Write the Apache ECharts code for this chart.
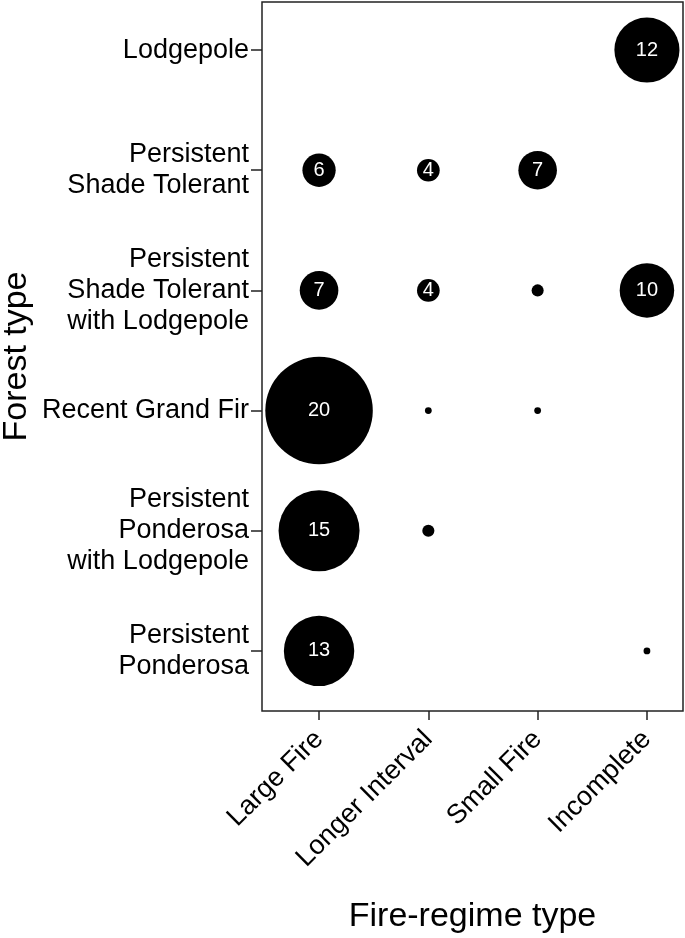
<!DOCTYPE html>
<html>
<head>
<meta charset="utf-8">
<script src="https://cdn.jsdelivr.net/npm/echarts@6/dist/echarts.min.js"></script>
<style>
html,body{margin:0;padding:0;background:#fff;}
#chart{width:685px;height:938px;}
</style>
</head>
<body>
<div id="chart"></div>
<script>
// Categories
const regimeTypes = ['Large Fire', 'Longer Interval', 'Small Fire', 'Incomplete'];
// bottom to top
const forestTypes = [
  'Persistent\nPonderosa',
  'Persistent\nPonderosa\nwith Lodgepole',
  'Recent Grand Fir',
  'Persistent\nShade Tolerant\nwith Lodgepole',
  'Persistent\nShade Tolerant',
  'Lodgepole'
];
// Counts per forest type, in regime order (0 = no bubble)
const persistentPonderosa = [13, 0, 0, 1];
const persistentPonderosaLodgepole = [15, 2, 0, 0];
const recentGrandFir = [20, 1, 1, 0];
const shadeTolerantLodgepole = [7, 4, 2, 10];
const shadeTolerant = [6, 4, 7, 0];
const lodgepole = [0, 0, 0, 12];

const rows = [persistentPonderosa, persistentPonderosaLodgepole, recentGrandFir,
              shadeTolerantLodgepole, shadeTolerant, lodgepole];

const data = [];
rows.forEach((row, yi) => {
  row.forEach((v, xi) => {
    if (v > 0) data.push([xi + 1, yi + 1, v]);
  });
});

const FONT = '"Liberation Sans", Arial, sans-serif';
const chart = echarts.init(document.getElementById('chart'));
chart.setOption({
  animation: false,
  textStyle: { fontFamily: FONT, color: '#000' },
  grid: { left: 262, top: 2, right: 2, bottom: 227, containLabel: false, outerBoundsMode: 'none',
          show: true, borderColor: '#222', borderWidth: 1.5, backgroundColor: 'transparent' },
  xAxis: {
    type: 'value', min: 0.478, max: 4.33,
    name: 'Fire-regime type', nameLocation: 'middle', nameGap: 189, nameMoveOverlap: false,
    nameTextStyle: { fontSize: 34, color: '#000', fontFamily: FONT },
    axisLine: { show: false },
    splitLine: { show: false },
    axisTick: { show: true, customValues: [1, 2, 3, 4], length: 9, lineStyle: { color: '#222', width: 1.5 } },
    axisLabel: {
      customValues: [1, 2, 3, 4], rotate: 45, margin: 24, fontSize: 27, color: '#000', fontFamily: FONT,
      formatter: v => regimeTypes[Math.round(v) - 1]
    }
  },
  yAxis: {
    type: 'value', min: 0.5, max: 6.4,
    name: 'Forest type', nameLocation: 'middle', nameGap: 228, nameRotate: 90, nameMoveOverlap: false,
    nameTextStyle: { fontSize: 34, color: '#000', fontFamily: FONT },
    axisLine: { show: false },
    splitLine: { show: false },
    axisTick: { show: true, customValues: [1, 2, 3, 4, 5, 6], length: 11, lineStyle: { color: '#222', width: 1.5 } },
    axisLabel: {
      customValues: [1, 2, 3, 4, 5, 6], margin: 13, fontSize: 27, lineHeight: 31, color: '#000', fontFamily: FONT,
      formatter: v => forestTypes[Math.round(v) - 1]
    }
  },
  series: [{
    type: 'scatter',
    data: data,
    symbol: 'circle',
    symbolSize: d => 5.3 * d[2] + 1.5,
    itemStyle: { color: '#000', opacity: 1 },
    label: {
      show: true, position: 'inside', color: '#fff', fontSize: 20, fontFamily: FONT,
      formatter: p => (p.value[2] >= 4 ? String(p.value[2]) : '')
    }
  }]
});
</script>
</body>
</html>
